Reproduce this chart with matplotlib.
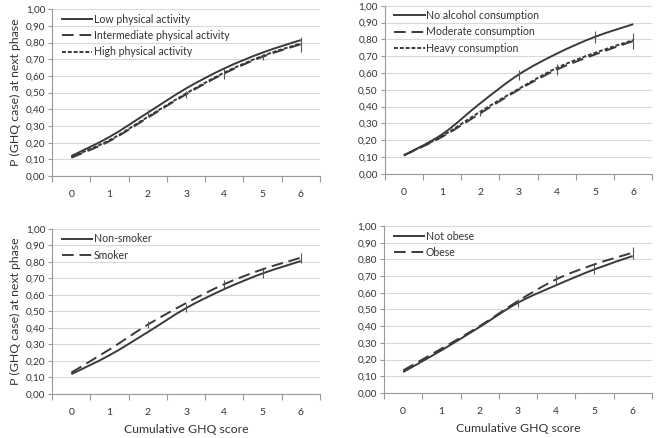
import matplotlib.pyplot as plt
from matplotlib.path import Path
from matplotlib.patches import PathPatch
from matplotlib.lines import Line2D
from matplotlib.ticker import FuncFormatter, MultipleLocator

plt.rcParams['font.family'] = ['Lato', 'DejaVu Sans']

SCORES = [0, 1, 2, 3, 4, 5, 6]

# physical activity
low_pa = [0.12, 0.235, 0.38, 0.525, 0.645, 0.74, 0.815]
mid_pa = [0.11, 0.21, 0.35, 0.49, 0.615, 0.715, 0.79]
high_pa = [0.115, 0.215, 0.355, 0.495, 0.62, 0.72, 0.795]
low_pa_err = [0, 0, 0.018, 0, 0, 0, 0]
mid_pa_err = [0, 0, 0, 0.02, 0.035, 0.018, 0.045]
high_pa_err = [0, 0, 0, 0, 0, 0, 0]

# alcohol
no_alc = [0.11, 0.235, 0.42, 0.59, 0.715, 0.815, 0.89]
mod_alc = [0.11, 0.22, 0.36, 0.50, 0.62, 0.71, 0.79]
heavy_alc = [0.11, 0.225, 0.37, 0.505, 0.63, 0.72, 0.795]
no_alc_err = [0, 0, 0, 0.03, 0, 0.035, 0]
mod_alc_err = [0, 0, 0.015, 0, 0.035, 0, 0.045]
heavy_alc_err = [0, 0, 0, 0, 0, 0, 0]

# smoking
non_smoker = [0.12, 0.235, 0.375, 0.52, 0.635, 0.73, 0.805]
smoker = [0.13, 0.27, 0.42, 0.55, 0.665, 0.755, 0.825]
non_smoker_err = [0, 0, 0, 0.025, 0, 0.025, 0]
smoker_err = [0, 0, 0.02, 0, 0.025, 0, 0.03]

# obesity
not_obese = [0.125, 0.255, 0.395, 0.54, 0.645, 0.74, 0.82]
obese = [0.135, 0.265, 0.40, 0.55, 0.68, 0.77, 0.84]
not_obese_err = [0, 0, 0, 0.025, 0, 0.03, 0]
obese_err = [0, 0, 0, 0, 0.025, 0, 0.035]

LINE_COL = '#3a3a3a'
STYLES = {'solid': '-', 'dash': (0, (6, 3)), 'dot': (0, (2, 1))}

panels = [
    ([0.079, 0.598, 0.405, 0.381],
     [('Low physical activity', low_pa, low_pa_err, 'solid'),
      ('Intermediate physical activity', mid_pa, mid_pa_err, 'dash'),
      ('High physical activity', high_pa, high_pa_err, 'dot')], True, False),
    ([0.582, 0.603, 0.405, 0.384],
     [('No alcohol consumption', no_alc, no_alc_err, 'solid'),
      ('Moderate consumption', mod_alc, mod_alc_err, 'dash'),
      ('Heavy consumption', heavy_alc, heavy_alc_err, 'dot')], False, False),
    ([0.079, 0.1005, 0.405, 0.377],
     [('Non-smoker', non_smoker, non_smoker_err, 'solid'),
      ('Smoker', smoker, smoker_err, 'dash')], True, True),
    ([0.581, 0.103, 0.405, 0.381],
     [('Not obese', not_obese, not_obese_err, 'solid'),
      ('Obese', obese, obese_err, 'dash')], False, True),
]


def smooth_path(xs, ys):
    # excel style smoothed line: cubic bezier segments through the points
    pts = list(zip(xs, ys))
    verts = [pts[0]]
    codes = [Path.MOVETO]
    n = len(pts)
    for i in range(n - 1):
        p0 = pts[max(i - 1, 0)]
        p1 = pts[i]
        p2 = pts[i + 1]
        p3 = pts[min(i + 2, n - 1)]
        c1 = (p1[0] + (p2[0] - p0[0]) / 6, p1[1] + (p2[1] - p0[1]) / 6)
        c2 = (p2[0] - (p3[0] - p1[0]) / 6, p2[1] - (p3[1] - p1[1]) / 6)
        verts += [c1, c2, p2]
        codes += [Path.CURVE4] * 3
    return Path(verts, codes)


fig = plt.figure(figsize=(6.61, 4.38), dpi=100)

for rect, series, show_ylabel, show_xlabel in panels:
    ax = fig.add_axes(rect)
    handles = []
    for label, vals, err, style in series:
        ls = STYLES[style]
        patch = PathPatch(smooth_path(SCORES, vals), fill=False, edgecolor=LINE_COL,
                          linewidth=1.4, linestyle=ls, zorder=3)
        ax.add_patch(patch)
        ax.errorbar(SCORES, vals, yerr=err, fmt='none', ecolor='#555555',
                    elinewidth=0.8, capsize=0, zorder=4)
        handles.append(Line2D([], [], color=LINE_COL, linewidth=1.4, linestyle=ls, label=label))

    ax.set_xlim(-0.5, 6.5)
    ax.set_ylim(0, 1)
    ax.yaxis.set_major_locator(MultipleLocator(0.1))
    ax.yaxis.set_major_formatter(FuncFormatter(lambda v, p: ('%.2f' % v).replace('.', ',')))
    ax.set_xticks(SCORES)
    ax.set_xticks([x - 0.5 for x in SCORES] + [6.5], minor=True)
    ax.tick_params(axis='x', which='major', length=0, pad=10, labelsize=7.5, labelcolor='#333333')
    ax.tick_params(axis='x', which='minor', length=4, color='#999999', width=0.8)
    ax.tick_params(axis='y', which='major', length=3, color='#999999', width=0.8,
                   pad=2, labelsize=7.2, labelcolor='#333333')
    ax.grid(axis='y', color='#d9d9d9', linewidth=0.8)
    ax.set_axisbelow(True)
    for side in ['top', 'right']:
        ax.spines[side].set_visible(False)
    for side in ['left', 'bottom']:
        ax.spines[side].set_color('#999999')
        ax.spines[side].set_linewidth(0.8)

    ax.legend(handles=handles, loc='upper left', bbox_to_anchor=(0.0, 1.03), frameon=False,
              handlelength=2.9, handletextpad=0.15, labelspacing=0.5, fontsize=7.6,
              labelcolor='#333333')
    if show_ylabel:
        ax.set_ylabel('P (GHQ case) at next phase', fontsize=8.8, color='#333333', labelpad=3)
    if show_xlabel:
        ax.set_xlabel('Cumulative GHQ score', fontsize=8.8, color='#333333', labelpad=5)

fig.savefig('out.png', dpi=100)
